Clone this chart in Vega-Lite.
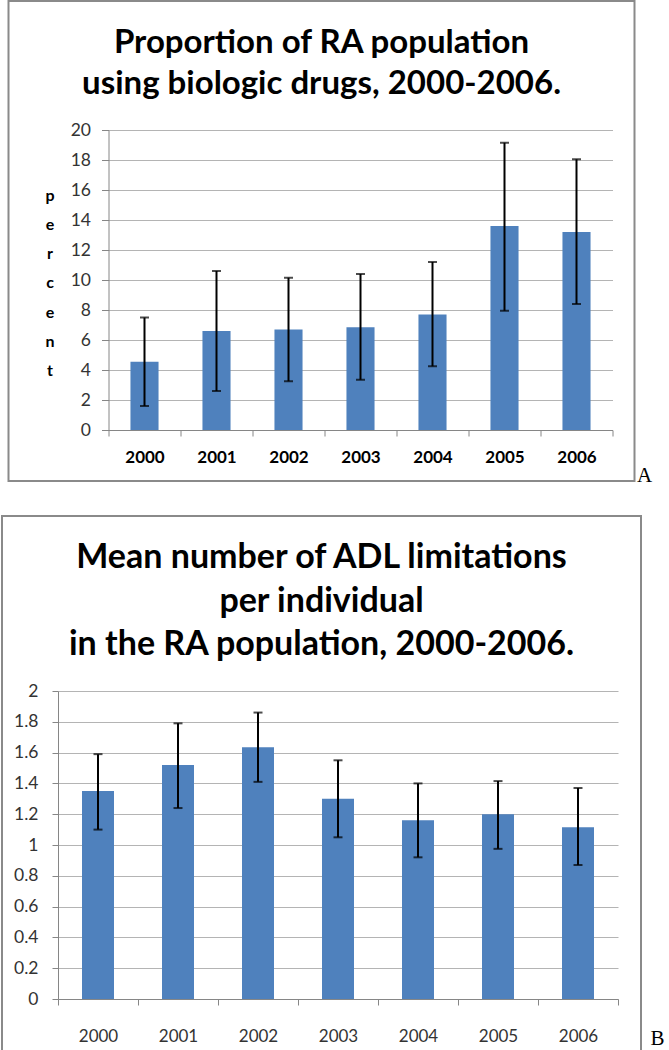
{
  "$schema": "https://vega.github.io/schema/vega-lite/v6.json",
  "padding": {"left": 1, "top": 0, "right": 0, "bottom": 0},
  "background": "white",
  "spacing": 35,
  "bounds": "flush",
  "center": true,
  "config": {
    "view": {"stroke": "#8a8a8a", "strokeWidth": 2, "fill": "white"},
    "font": "Lato",
    "axis": {"domainColor": "#868686", "tickColor": "#868686", "gridColor": "#b4b4b4", "labelFont": "Lato", "domainWidth": 1, "tickWidth": 1, "gridWidth": 1}
  },
  "vconcat": [
    {
      "width": 626,
      "height": 480,
      "title": {"text": ["Proportion of RA population", "using biologic drugs, 2000-2006."], "font": "Lato", "fontSize": 33, "fontWeight": "bold", "color": "black", "lineHeight": 41, "offset": -100, "anchor": "middle", "frame": "group"},
      "data": {"values": [
        {"year": "2000", "pct": 4.55, "lo": 1.6, "hi": 7.5},
        {"year": "2001", "pct": 6.6, "lo": 2.6, "hi": 10.6},
        {"year": "2002", "pct": 6.7, "lo": 3.25, "hi": 10.15},
        {"year": "2003", "pct": 6.85, "lo": 3.35, "hi": 10.4},
        {"year": "2004", "pct": 7.7, "lo": 4.25, "hi": 11.2},
        {"year": "2005", "pct": 13.6, "lo": 7.95, "hi": 19.15},
        {"year": "2006", "pct": 13.2, "lo": 8.4, "hi": 18.05}
      ]},
      "encoding": {
        "x": {"field": "year", "type": "ordinal",
          "scale": {"range": [100, 604], "paddingInner": 0, "paddingOuter": 0},
          "axis": {"title": "A", "offset": -51, "tickBand": "extent", "tickSize": 6, "labelPadding": 13, "labelFontSize": 17, "labelFontWeight": "bold", "labelColor": "black", "labelAngle": 0, "grid": false,
            "titleFont": "Liberation Serif", "titleFontSize": 21, "titleFontWeight": "normal", "titleColor": "black", "titleX": 628, "titleY": 51, "titleAlign": "left", "titleBaseline": "alphabetic"}},
        "y": {"field": "pct", "type": "quantitative",
           "scale": {"domain": [0, 20], "range": [429, 129], "nice": false, "zero": true},
           "axis": {"values": [0, 2, 4, 6, 8, 10, 12, 14, 16, 18, 20], "offset": -100, "grid": true, "tickSize": 7, "labelPadding": 11, "labelFontSize": 17.5, "labelColor": "#333333",
             "title": ["p", "e", "r", "c", "e", "n", "t"], "titleAngle": 0, "titleFont": "Lato", "titleFontSize": 16, "titleFontWeight": "bold", "titleColor": "black", "titleLineHeight": 29.3, "titleX": -59, "titleY": 186, "titleBaseline": "top", "titleAlign": "center"}}
      },
      "layer": [
        {"mark": {"type": "bar", "color": "#4f81bd", "width": {"band": 0.39}}},
        {"mark": {"type": "rule", "color": "black", "strokeWidth": 2},
         "encoding": {"y": {"field": "lo", "type": "quantitative"}, "y2": {"field": "hi"}}},
        {"mark": {"type": "tick", "color": "black", "thickness": 2, "size": 9},
         "encoding": {"y": {"field": "lo", "type": "quantitative"}}},
        {"mark": {"type": "tick", "color": "black", "thickness": 2, "size": 9},
         "encoding": {"y": {"field": "hi", "type": "quantitative"}}}
      ]
    },
    {
      "width": 639,
      "height": 540,
      "title": {"text": ["Mean number of ADL limitations", "per individual", "in the RA population, 2000-2006."], "font": "Lato", "fontSize": 34, "fontWeight": "bold", "color": "black", "lineHeight": 43.5, "offset": -146, "anchor": "middle", "frame": "group"},
      "data": {"values": [
        {"year": "2000", "adl": 1.35, "lo": 1.10, "hi": 1.59},
        {"year": "2001", "adl": 1.52, "lo": 1.24, "hi": 1.79},
        {"year": "2002", "adl": 1.635, "lo": 1.41, "hi": 1.86},
        {"year": "2003", "adl": 1.30, "lo": 1.05, "hi": 1.55},
        {"year": "2004", "adl": 1.16, "lo": 0.92, "hi": 1.40},
        {"year": "2005", "adl": 1.20, "lo": 0.975, "hi": 1.415},
        {"year": "2006", "adl": 1.115, "lo": 0.87, "hi": 1.37}
      ]},
      "encoding": {
        "x": {"field": "year", "type": "ordinal",
          "scale": {"range": [56, 616], "paddingInner": 0, "paddingOuter": 0},
          "axis": {"title": "B", "offset": -57, "tickBand": "extent", "tickSize": 6, "labelPadding": 23, "labelFontSize": 17, "labelColor": "#333333", "labelAngle": 0, "grid": false,
            "titleFont": "Liberation Serif", "titleFontSize": 21, "titleFontWeight": "normal", "titleColor": "black", "titleX": 648, "titleY": 45, "titleAlign": "left", "titleBaseline": "alphabetic"}},
        "y": {"field": "adl", "type": "quantitative",
           "scale": {"domain": [0, 2], "range": [483, 175], "nice": false, "zero": true},
           "axis": {"values": [0, 0.2, 0.4, 0.6, 0.8, 1, 1.2, 1.4, 1.6, 1.8, 2], "format": ".1~f", "offset": -56, "grid": true, "tickSize": 6, "labelPadding": 14, "labelFontSize": 17.5, "labelColor": "#333333", "title": null}}
      },
      "layer": [
        {"mark": {"type": "bar", "color": "#4f81bd", "width": {"band": 0.4}}},
        {"mark": {"type": "rule", "color": "black", "strokeWidth": 2},
         "encoding": {"y": {"field": "lo", "type": "quantitative"}, "y2": {"field": "hi"}}},
        {"mark": {"type": "tick", "color": "black", "thickness": 2, "size": 9},
         "encoding": {"y": {"field": "lo", "type": "quantitative"}}},
        {"mark": {"type": "tick", "color": "black", "thickness": 2, "size": 9},
         "encoding": {"y": {"field": "hi", "type": "quantitative"}}}
      ]
    }
  ]
}
